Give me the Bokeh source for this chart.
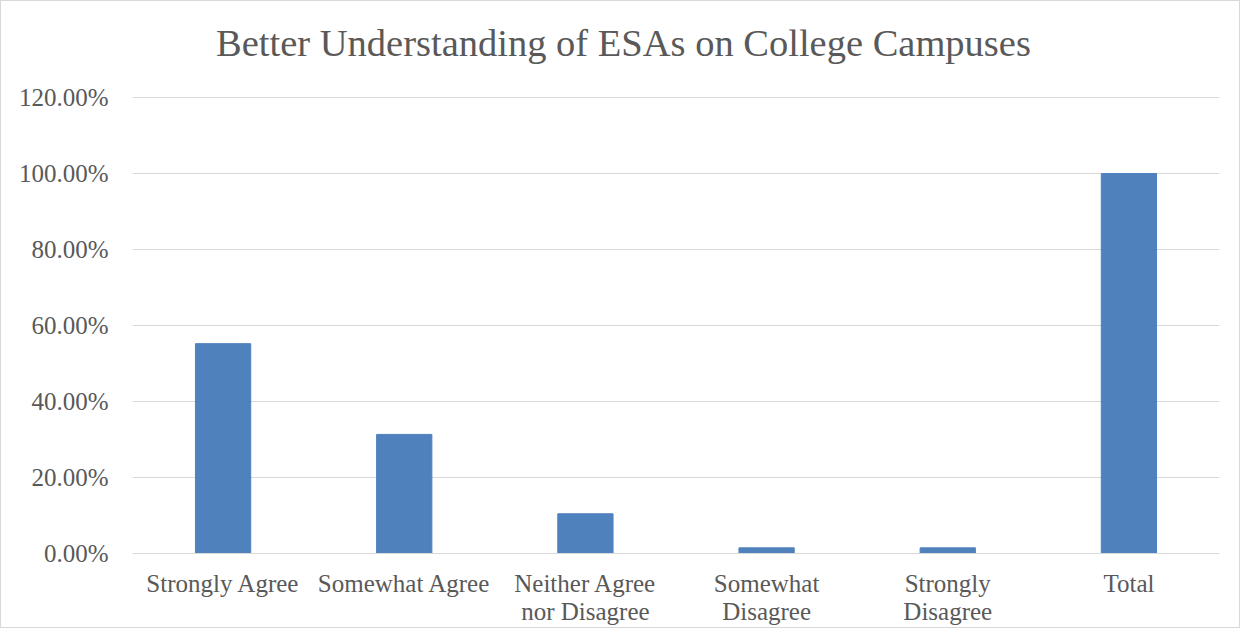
from bokeh.plotting import figure
from bokeh.embed import file_html
from bokeh.resources import INLINE
from bokeh.models import NumeralTickFormatter, FixedTicker, ColumnDataSource, Label

categories = ["Strongly Agree", "Somewhat Agree", "Neither Agree\nnor Disagree",
              "Somewhat\nDisagree", "Strongly\nDisagree", "Total"]
values = [0.5522, 0.3134, 0.1045, 0.0149, 0.0149, 1.0]
y_ticks = [0.0, 0.2, 0.4, 0.6, 0.8, 1.0, 1.2]
title_text = "Better Understanding of ESAs on College Campuses"

FONT = "Liberation Serif"
GRAY = "#595959"

# The frame reaches up to the top of the figure so the title (a Label) is not clipped;
# gridlines/ticks stop at 120% as in the reference.
p = figure(x_range=categories, y_range=(0, 1.4316), width=1240, height=628,
           output_backend="svg", toolbar_location=None,
           min_border_left=131, min_border_right=22, min_border_top=8, min_border_bottom=76)
p.styles = {"border": "1px solid #d9d9d9"}

src = ColumnDataSource(dict(cat=categories, val=values))
p.vbar(x="cat", top="val", width=0.305, source=src, fill_color="#4F81BD",
       line_color="#4F81BD")

# screen units are relative to the plot frame (x from left, y from bottom)
title = Label(x=491, y=511, x_units="screen", y_units="screen", text=title_text,
              text_font=FONT, text_font_size="38.5px", text_color=GRAY,
              text_align="center", text_baseline="alphabetic")
p.add_layout(title)

p.outline_line_color = None
p.xgrid.grid_line_color = None
p.ygrid.grid_line_color = "#d9d9d9"
p.ygrid.grid_line_width = 1
p.ygrid.ticker = FixedTicker(ticks=y_ticks)

p.yaxis.ticker = FixedTicker(ticks=y_ticks)
p.yaxis.formatter = NumeralTickFormatter(format="0.00%")
p.yaxis.axis_line_color = None
p.yaxis.major_tick_line_color = None
p.yaxis.minor_tick_line_color = None
p.yaxis.major_label_text_font = FONT
p.yaxis.major_label_text_font_size = "25px"
p.yaxis.major_label_text_color = GRAY
p.yaxis.major_label_standoff = 18

p.xaxis.axis_line_color = "#d9d9d9"
p.xaxis.major_tick_line_color = None
p.xaxis.minor_tick_line_color = None
p.xaxis.major_label_text_font = FONT
p.xaxis.major_label_text_font_size = "25px"
p.xaxis.major_label_text_line_height = 1.05
p.xaxis.major_label_text_color = GRAY
p.xaxis.major_label_standoff = 10

open("out.html", "w").write(file_html(p, INLINE))
